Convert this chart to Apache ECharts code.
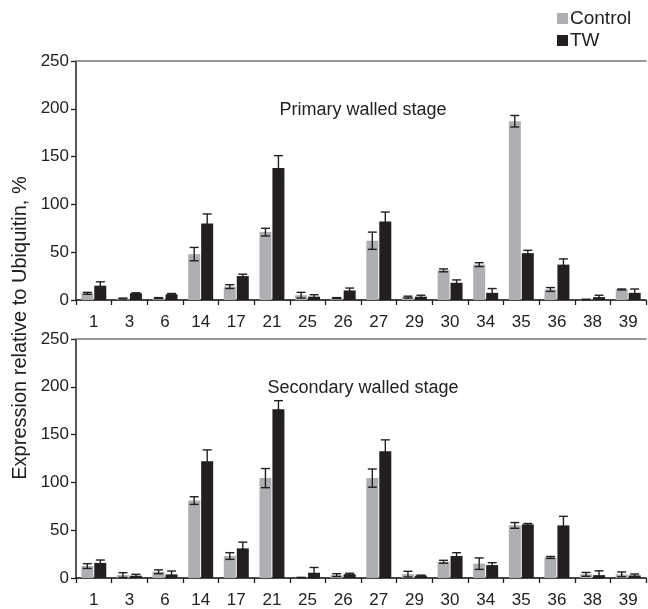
<!DOCTYPE html>
<html>
<head>
<meta charset="utf-8">
<script src="https://cdn.jsdelivr.net/npm/echarts@6/dist/echarts.min.js"></script>
<style>
  html, body { margin: 0; padding: 0; background: #fff; }
  #chart { width: 648px; height: 609px; }
</style>
</head>
<body>
<div id="chart"></div>
<script>
// gene numbers along the x axis
const categories = ['1', '3', '6', '14', '17', '21', '25', '26', '27', '29', '30', '34', '35', '36', '38', '39']

// primary walled stage
const ctrlPrimary = [7, 1.5, 2, 48, 14, 71, 5, 2, 62, 3, 31, 37, 187, 11, 0.5, 11]
const ctrlPrimaryErr = [1, 0.5, 0.5, 7, 2, 4, 3, 0.5, 9, 1, 1.5, 2, 6, 2, 0.3, 0.5]
const twPrimary = [15, 7, 6, 80, 25, 138, 3.5, 10, 82, 3.5, 18, 7.5, 49, 37, 3, 7.5]
const twPrimaryErr = [4, 0.5, 0.8, 10, 2, 13, 2, 2.5, 10, 1.5, 3, 4.5, 3, 6, 2, 4]

// secondary walled stage
const ctrlSecondary = [12.5, 3, 6.5, 81, 23, 104.5, 0.5, 3, 104.5, 4, 17, 15, 55, 21.5, 3.8, 3.8]
const ctrlSecondaryErr = [2.5, 2.5, 2, 4, 3.5, 10, 0.2, 1.5, 9.5, 3, 1.5, 6, 3, 1, 2, 2.5]
const twSecondary = [15.8, 2.4, 3.8, 122, 31, 176.5, 5.5, 4, 132.5, 2.5, 23, 13.5, 56, 55, 3, 2.7]
const twSecondaryErr = [3, 1.5, 3.5, 12, 6.5, 9, 5.5, 1, 12, 0.5, 3.5, 2.5, 1, 9.5, 4.5, 1.5]

const yTicks = [0, 50, 100, 150, 200, 250]

const FONT = 'Liberation Sans, Arial, sans-serif'
const GRAY = '#aeafb2'
const BLACK = '#231f20'
const BAR_W = 12
const HALF = 6.5 // bar centre offset from category centre

const myChart = echarts.init(document.getElementById('chart'))

// 误差线
function errorSeries(vals, errs, gridIdx, offset) {
  return {
    type: 'custom',
    xAxisIndex: gridIdx * 2,
    yAxisIndex: gridIdx,
    z: 10,
    silent: true,
    data: vals.map((v, i) => [i, v, errs[i]]),
    renderItem: (params, api) => {
      const i = api.value(0)
      const v = api.value(1)
      const e = api.value(2)
      const hi = api.coord([i, v + e])
      const lo = api.coord([i, Math.max(v - e, 0)])
      const x = hi[0] + offset
      const cap = 4.5
      const style = { stroke: BLACK, lineWidth: 1.4 }
      return {
        type: 'group',
        children: [
          { type: 'line', shape: { x1: x, y1: hi[1], x2: x, y2: lo[1] }, style },
          { type: 'line', shape: { x1: x - cap, y1: hi[1], x2: x + cap, y2: hi[1] }, style },
          { type: 'line', shape: { x1: x - cap, y1: lo[1], x2: x + cap, y2: lo[1] }, style }
        ]
      }
    }
  }
}

function xAxes(gridIdx) {
  return [
    {
      type: 'category',
      gridIndex: gridIdx,
      data: categories,
      position: 'bottom',
      axisLine: { lineStyle: { color: BLACK, width: 1.5 } },
      axisTick: { show: true, length: 5, lineStyle: { color: BLACK, width: 1.3 } },
      axisLabel: { color: '#222', fontSize: 17, fontFamily: FONT, margin: 14 },
      splitLine: { show: false }
    },
    {
      // gray frame line along the top of each panel
      type: 'category',
      gridIndex: gridIdx,
      data: categories,
      position: 'top',
      axisLine: { show: true, lineStyle: { color: '#999', width: 2 } },
      axisTick: { show: false },
      axisLabel: { show: false }
    }
  ]
}

function yAxis(gridIdx) {
  return {
    type: 'value',
    gridIndex: gridIdx,
    min: yTicks[0],
    max: yTicks[yTicks.length - 1],
    interval: 50,
    axisLine: { show: true, lineStyle: { color: BLACK, width: 1.5 } },
    axisTick: { show: true, length: 5, lineStyle: { color: BLACK, width: 1.3 } },
    axisLabel: { color: '#222', fontSize: 17, fontFamily: FONT, margin: 7 },
    splitLine: {
      show: true,
      lineStyle: { color: ['#b8b8b8', 'transparent', 'transparent', 'transparent', 'transparent', 'transparent'], width: 2 }
    }
  }
}

function barSeries(name, color, vals, gridIdx) {
  return {
    name,
    type: 'bar',
    xAxisIndex: gridIdx * 2,
    yAxisIndex: gridIdx,
    data: vals,
    barWidth: BAR_W,
    barGap: '8%',
    itemStyle: { color },
    z: 3
  }
}

const option = {
  animation: false,
  backgroundColor: '#fff',
  textStyle: { fontFamily: FONT },
  legend: {
    data: ['Control', 'TW'],
    orient: 'vertical',
    left: 552,
    top: 4,
    itemWidth: 11,
    itemHeight: 11,
    itemGap: 3,
    icon: 'rect',
    textStyle: { color: '#222', fontSize: 19, fontFamily: FONT, padding: [0, 0, 0, -3] }
  },
  grid: [
    { left: 76, right: 2, top: 61, height: 239 },
    { left: 76, right: 2, top: 339, height: 243 }
  ],
  xAxis: [...xAxes(0), ...xAxes(1)],
  yAxis: [yAxis(0), yAxis(1)],
  graphic: [
    {
      type: 'text',
      x: 363, y: 110,
      style: { text: 'Primary walled stage', fontSize: 18, fontFamily: FONT, fill: '#222', align: 'center', verticalAlign: 'middle' }
    },
    {
      type: 'text',
      x: 363, y: 388,
      style: { text: 'Secondary walled stage', fontSize: 18, fontFamily: FONT, fill: '#222', align: 'center', verticalAlign: 'middle' }
    },
    {
      type: 'text',
      x: 20, y: 328,
      rotation: Math.PI / 2,
      style: {
        text: 'Expression relative to Ubiquitin, %',
        fontSize: 20, fontFamily: FONT, fill: '#222',
        align: 'center', verticalAlign: 'middle'
      }
    }
  ],
  series: [
    barSeries('Control', GRAY, ctrlPrimary, 0),
    barSeries('TW', BLACK, twPrimary, 0),
    barSeries('Control', GRAY, ctrlSecondary, 1),
    barSeries('TW', BLACK, twSecondary, 1),
    errorSeries(ctrlPrimary, ctrlPrimaryErr, 0, -HALF),
    errorSeries(twPrimary, twPrimaryErr, 0, HALF),
    errorSeries(ctrlSecondary, ctrlSecondaryErr, 1, -HALF),
    errorSeries(twSecondary, twSecondaryErr, 1, HALF)
  ]
}

myChart.setOption(option)
</script>
</body>
</html>
